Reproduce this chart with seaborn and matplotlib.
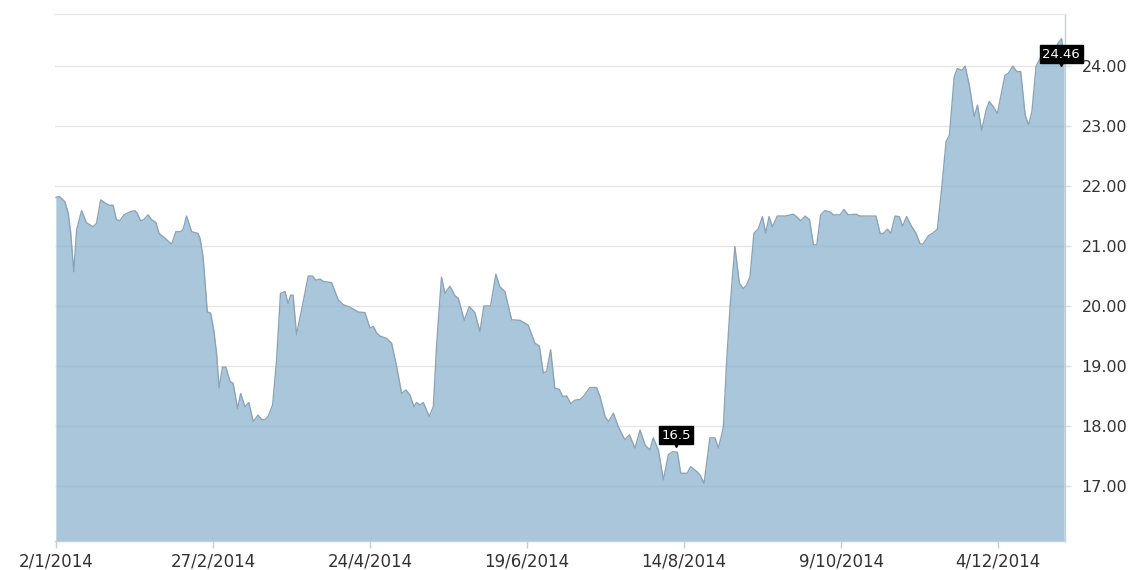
import matplotlib
matplotlib.use("Agg")
import matplotlib.pyplot as plt
import matplotlib.transforms as mtransforms
import seaborn as sns
import pandas as pd
import numpy as np

# ---- data ----
start_date = "2014-01-02"
day_offsets = [0, 1.2, 3.2, 4.4, 5.3, 6.4, 7.4, 9.2, 10.9, 13.3, 14.5, 16.0, 17.5, 19.0, 20.4,
               21.6, 22.8, 24.3, 26.4, 28.2, 29.0, 30.2, 31.4, 32.9, 34.1, 35.7, 36.8, 38.9,
               41.3, 42.8, 44.6, 45.4, 46.6, 48.4, 50.7, 51.4, 52.5, 54.0, 55.2, 56.3, 57.3,
               58.2, 59.4, 60.6, 62.1, 63.2, 64.8, 65.9, 67.4, 68.8, 70.4, 72.1, 73.3, 74.5,
               75.7, 77.3, 78.7, 80.1, 81.7, 82.8, 83.7, 84.6, 85.8, 88.2, 90.0, 91.5, 92.7,
               94.2, 95.3, 98.3, 100.7, 102.5, 104.9, 107.8, 110.2, 112.0, 113.2, 114.4, 115.5,
               117.9, 119.7, 121.5, 123.3, 124.8, 126.2, 127.7, 128.6, 129.8, 131.0, 133.1,
               134.6, 135.8, 137.5, 138.7, 140.5, 142.3, 143.5, 145.6, 147.4, 149.4, 151.2,
               152.6, 155.0, 156.9, 158.3, 160.1, 162.5, 165.5, 168.4, 170.8, 172.4, 173.8,
               175.0, 176.4, 177.9, 179.5, 180.7, 182.1, 183.6, 185.1, 186.9, 188.1, 190.4,
               192.8, 194.0, 195.2, 195.8, 197.0, 198.8, 200.5, 202.3, 202.9, 204.5, 206.5,
               208.3, 210.1, 211.8, 213.0, 214.8, 216.6, 218.4, 219.9, 221.6, 222.8, 225.1,
               226.3, 228.5, 229.7, 231.1, 233.2, 235.0, 236.2, 237.4, 238.0, 239.2, 240.4,
               242.1, 243.7, 245.1, 246.3, 247.5, 248.9, 250.5, 251.9, 253.1, 254.3, 255.5,
               257.2, 260.0, 262.9, 264.1, 265.6, 267.1, 268.7, 270.1, 271.3, 272.7, 274.2,
               276.0, 277.2, 279.6, 281.0, 282.5, 285.3, 286.7, 292.4, 293.9, 295.0, 296.5,
               297.7, 299.2, 300.7, 301.9, 303.3, 305.1, 306.7, 308.1, 309.1, 311.1, 312.8,
               314.3, 315.9, 317.4, 318.6, 320.3, 321.4, 323.0, 324.2, 325.7, 327.4, 328.6,
               330.1, 331.7, 332.8, 334.3, 335.7, 338.4, 339.6, 341.2, 342.6, 344.0, 345.6,
               346.8, 348.0, 349.5, 350.9, 353.8, 355.9, 357.3, 358.6, 359.5]
prices = [21.81, 21.83, 21.74, 21.55, 21.22, 20.57, 21.27, 21.59, 21.39, 21.32, 21.38, 21.77,
          21.72, 21.68, 21.68, 21.44, 21.42, 21.52, 21.57, 21.59, 21.55, 21.42, 21.44, 21.52,
          21.44, 21.39, 21.21, 21.13, 21.03, 21.24, 21.24, 21.28, 21.50, 21.24, 21.21, 21.13,
          20.82, 19.90, 19.88, 19.60, 19.21, 18.63, 18.98, 18.98, 18.74, 18.71, 18.29, 18.54,
          18.32, 18.39, 18.07, 18.18, 18.11, 18.10, 18.16, 18.35, 19.10, 20.21, 20.24, 20.04,
          20.18, 20.18, 19.52, 20.07, 20.50, 20.50, 20.43, 20.45, 20.41, 20.39, 20.10, 20.02,
          19.98, 19.90, 19.89, 19.63, 19.66, 19.55, 19.50, 19.46, 19.38, 18.99, 18.54, 18.60,
          18.52, 18.32, 18.39, 18.35, 18.39, 18.16, 18.32, 19.38, 20.48, 20.21, 20.33, 20.17,
          20.13, 19.76, 19.99, 19.89, 19.57, 20.00, 20.00, 20.53, 20.32, 20.24, 19.77, 19.76,
          19.68, 19.38, 19.33, 18.88, 18.91, 19.27, 18.63, 18.61, 18.49, 18.50, 18.37, 18.43,
          18.44, 18.49, 18.64, 18.64, 18.49, 18.27, 18.16, 18.07, 18.21, 17.99, 17.82, 17.77,
          17.85, 17.63, 17.93, 17.68, 17.60, 17.80, 17.60, 17.10, 17.52, 17.57, 17.56, 17.21,
          17.21, 17.32, 17.24, 17.18, 17.04, 17.80, 17.80, 17.63, 17.85, 17.99, 19.10, 19.99,
          20.99, 20.38, 20.29, 20.35, 20.49, 21.21, 21.29, 21.49, 21.22, 21.49, 21.32, 21.50,
          21.50, 21.53, 21.49, 21.42, 21.50, 21.44, 21.02, 21.02, 21.52, 21.59, 21.57, 21.52,
          21.52, 21.61, 21.52, 21.53, 21.50, 21.50, 21.21, 21.21, 21.28, 21.21, 21.50, 21.49,
          21.33, 21.49, 21.33, 21.21, 21.04, 21.03, 21.17, 21.22, 21.28, 21.99, 22.74, 22.85,
          23.82, 23.96, 23.93, 24.00, 23.68, 23.16, 23.35, 22.93, 23.27, 23.41, 23.32, 23.21,
          23.85, 23.88, 24.00, 23.91, 23.91, 23.18, 23.02, 23.24, 24.00, 24.13, 24.17, 24.23,
          24.38, 24.46, 24.07]

x_tick_dates = ["2014-01-02", "2014-02-27", "2014-04-24", "2014-06-19",
                "2014-08-14", "2014-10-09", "2014-12-04"]
x_tick_labels = ["2/1/2014", "27/2/2014", "24/4/2014", "19/6/2014",
                 "14/8/2014", "9/10/2014", "4/12/2014"]
y_ticks = [17, 18, 19, 20, 21, 22, 23, 24]
y_tick_labels = ["17.00", "18.00", "19.00", "20.00", "21.00", "22.00", "23.00", "24.00"]

flag_labels = ["16.5", "24.46"]
flag_days = [221.1, 358.5]
flag_values = [17.65, 24.0]

y_min, y_max = 16.08, 24.87

# ---- build ----
t0 = pd.Timestamp(start_date)
dates = t0 + pd.to_timedelta(day_offsets, unit="D")
df = pd.DataFrame({"date": dates, "price": prices})

sns.set_theme(style="white")
plt.rcParams["font.family"] = ["DejaVu Sans"]

W, H = 1136, 570
fig = plt.figure(figsize=(W / 100, H / 100), dpi=100)
ax = fig.add_axes([55 / W, (H - 541) / H, (1065 - 55) / W, (541 - 14) / H])

ax.set_axisbelow(True)
ax.yaxis.grid(True, color="#e6e6e6", lw=1.0)
ax.xaxis.grid(False)

ax.fill_between(df["date"], df["price"], y_min, color="#8cb4d0", alpha=0.75, lw=0, zorder=2)
sns.lineplot(data=df, x="date", y="price", ax=ax, color="#8ba4b8", lw=1.0, zorder=3)

ax.set_xlim(t0 + pd.Timedelta(days=-0.3), t0 + pd.Timedelta(days=359.8))
ax.set_ylim(y_min, y_max)
ax.set_xlabel("")
ax.set_ylabel("")

ax.set_xticks(pd.to_datetime(x_tick_dates))
ax.set_xticklabels(x_tick_labels)
ax.set_yticks(y_ticks)
ax.set_yticklabels(y_tick_labels)
ax.yaxis.tick_right()

axis_col = "#c0d0e0"
ax.spines["left"].set_visible(False)
ax.spines["top"].set_color("#e6e6e6")
ax.spines["right"].set_color(axis_col)
ax.spines["bottom"].set_color(axis_col)
for s in ["top", "right", "bottom"]:
    ax.spines[s].set_linewidth(1.0)

ax.tick_params(axis="x", bottom=True, length=5, width=1, color=axis_col,
               pad=3, labelsize=12, labelcolor="#333333")
ax.tick_params(axis="y", right=True, left=False, length=4, width=1, color="#e0e0e0",
               pad=8, labelsize=11.5, labelcolor="#333333")

# flags
for lab, d, v in zip(flag_labels, flag_days, flag_values):
    xd = t0 + pd.Timedelta(days=d)
    tri = mtransforms.offset_copy(ax.transData, fig=fig, x=0, y=2.2, units="points")
    ax.plot([xd], [v], marker="v", ms=5, color="black", transform=tri, zorder=5,
            clip_on=False)
    ax.annotate(lab, xy=(xd, v), xytext=(0, 8.5), textcoords="offset points",
                ha="center", va="center", color="white", fontsize=9.5, zorder=6,
                bbox=dict(boxstyle="square,pad=0.2", fc="black", ec="black"),
                annotation_clip=False)

fig.savefig("out.png", dpi=100)
